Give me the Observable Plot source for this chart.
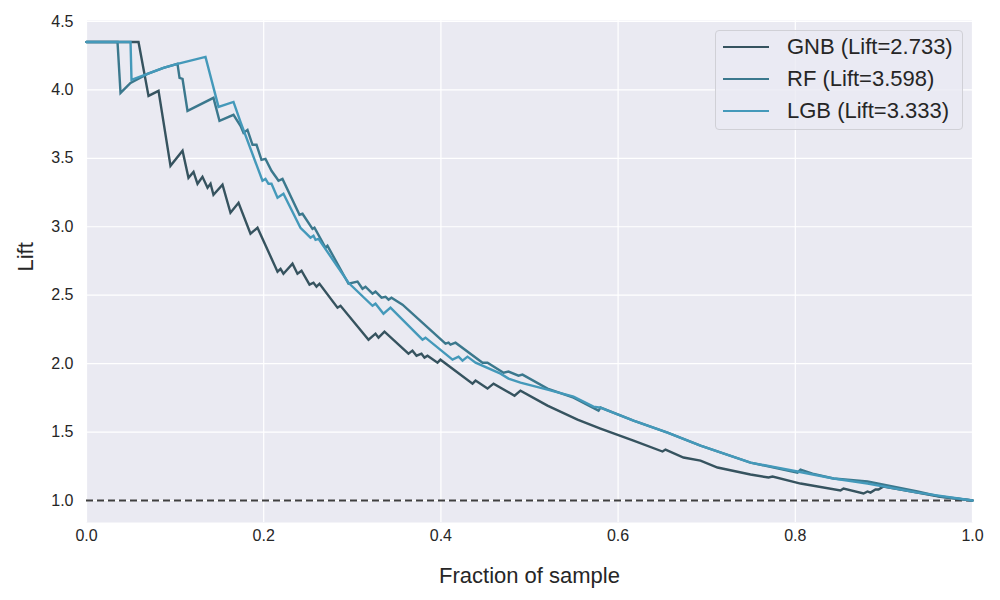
<!DOCTYPE html>
<html>
<head>
<meta charset="utf-8">
<script src="https://cdn.jsdelivr.net/npm/d3@7"></script>
<script src="https://cdn.jsdelivr.net/npm/@observablehq/plot@0.6"></script>
<style>
  html, body { margin: 0; padding: 0; background: #fff; }
  #wrap { position: relative; width: 1000px; height: 600px; font-family: "Liberation Sans", Arial, sans-serif; }
  #legend { position: absolute; left: 715px; top: 30px; width: 248px; height: 100px; box-sizing: border-box;
    background: rgba(234,234,242,0.8); border: 1px solid #d0d0d6; border-radius: 4px; padding-top: 0.5px; }
  .item { display: flex; align-items: center; height: 31.7px; color: #262626; font-size: 22px; white-space: nowrap; }
  .swatch { width: 46px; height: 0; border-top: 2.4px solid; margin-left: 7px; margin-right: 18px; }
</style>
</head>
<body>
<div id="wrap"><div id="legend"></div></div>
<script>
// Series: [fraction of sample, lift]
const seriesNames = ["GNB (Lift=2.733)", "RF (Lift=3.598)", "LGB (Lift=3.333)"];
const seriesColors = ["#36535f", "#3b788d", "#4499ba"];

const gnb = [
  [0,4.350],[0.0587,4.350],[0.0700,3.956],[0.0813,3.993],[0.0948,3.445],[0.1084,3.555],[0.1151,3.358],
  [0.1208,3.401],[0.1253,3.314],[0.1309,3.365],[0.1366,3.285],[0.1400,3.314],[0.1433,3.234],[0.1535,3.307],
  [0.1625,3.102],[0.1716,3.175],[0.1851,2.949],[0.1930,2.993],[0.2156,2.672],[0.2190,2.693],[0.2223,2.657],
  [0.2325,2.730],[0.2381,2.657],[0.2427,2.679],[0.2517,2.577],[0.2562,2.591],[0.2596,2.562],[0.2630,2.584],
  [0.2833,2.409],[0.2867,2.423],[0.3183,2.175],[0.3262,2.219],[0.3296,2.190],[0.3363,2.234],[0.3634,2.073],
  [0.3679,2.095],[0.3725,2.058],[0.3781,2.073],[0.3815,2.044],[0.3849,2.058],[0.3962,2.007],[0.3995,2.029],
  [0.4357,1.854],[0.4391,1.876],[0.4526,1.818],[0.4594,1.854],[0.4831,1.766],[0.4898,1.803],[0.5203,1.693],
  [0.5542,1.591],[0.5801,1.526],[0.6174,1.438],[0.6501,1.358],[0.6535,1.372],[0.6738,1.314],[0.6930,1.292],
  [0.7122,1.241],[0.7494,1.190],[0.7698,1.168],[0.7743,1.175],[0.8059,1.124],[0.8510,1.073],[0.8544,1.088],
  [0.8770,1.051],[0.8815,1.066],[0.8849,1.058],[0.8905,1.080],[0.8939,1.080],[0.8995,1.102],[0.9379,1.058],
  [0.9639,1.027],[1.0,1.0]
];

const rf = [
  [0,4.350],[0.0350,4.350],[0.0384,3.978],[0.0497,4.051],[0.0688,4.117],[0.0869,4.161],[0.1027,4.190],
  [0.1050,4.088],[0.1084,4.080],[0.1140,3.847],[0.1433,3.942],[0.1501,3.774],[0.1659,3.818],[0.1738,3.737],
  [0.1772,3.686],[0.1817,3.708],[0.1874,3.599],[0.1919,3.599],[0.1975,3.489],[0.2020,3.496],[0.2088,3.409],
  [0.2144,3.358],[0.2167,3.336],[0.2212,3.350],[0.2404,3.088],[0.2438,3.095],[0.2551,2.985],[0.2573,2.993],
  [0.2698,2.847],[0.2720,2.861],[0.2957,2.584],[0.3059,2.599],[0.3115,2.547],[0.3149,2.562],[0.3228,2.511],
  [0.3262,2.526],[0.3330,2.482],[0.3375,2.489],[0.3409,2.467],[0.3442,2.482],[0.3567,2.431],[0.4052,2.146],
  [0.4086,2.153],[0.4108,2.139],[0.4165,2.153],[0.4470,2.007],[0.4526,2.007],[0.4707,1.934],[0.4763,1.942],
  [0.4876,1.912],[0.4921,1.920],[0.5203,1.818],[0.5497,1.752],[0.5779,1.657],[0.5801,1.679],[0.6174,1.584],
  [0.6558,1.496],[0.6930,1.401],[0.7494,1.277],[0.8025,1.204],[0.8059,1.226],[0.8194,1.197],[0.8431,1.161],
  [0.8815,1.139],[0.9379,1.066],[0.9639,1.029],[1.0,1.0]
];

const lgb = [
  [0,4.350],[0.0497,4.350],[0.0508,4.073],[0.0688,4.117],[0.0869,4.161],[0.1027,4.190],[0.1343,4.241],
  [0.1490,3.876],[0.1659,3.912],[0.1738,3.766],[0.1986,3.336],[0.2020,3.350],[0.2054,3.314],[0.2088,3.314],
  [0.2156,3.212],[0.2223,3.241],[0.2415,2.993],[0.2528,2.920],[0.2562,2.934],[0.2585,2.905],[0.2619,2.912],
  [0.2957,2.591],[0.3228,2.423],[0.3262,2.438],[0.3352,2.365],[0.3431,2.409],[0.3792,2.175],[0.3826,2.190],
  [0.4131,2.029],[0.4199,2.051],[0.4244,2.022],[0.4300,2.051],[0.4391,2.007],[0.4673,1.927],[0.4763,1.891],
  [0.4898,1.861],[0.5203,1.810],[0.5497,1.759],[0.5722,1.686],[0.5801,1.679],[0.6174,1.584],[0.6558,1.496],
  [0.6930,1.401],[0.7494,1.277],[0.8025,1.212],[0.8431,1.161],[0.8815,1.124],[0.9379,1.058],[1.0,1.0]
];

const xTicks = [0, 0.2, 0.4, 0.6, 0.8, 1.0];
const yTicks = [1.0, 1.5, 2.0, 2.5, 3.0, 3.5, 4.0, 4.5];
const baseline = [1.0];

const allSeries = [gnb, rf, lgb];
const rows = allSeries.flatMap((s, i) => s.map(([x, y]) => ({x, y, model: seriesNames[i]})));

const font = '"Liberation Sans", Arial, sans-serif';

const chart = Plot.plot({
  width: 1000,
  height: 600,
  marginLeft: 86,
  marginRight: 28,
  marginTop: 20,
  marginBottom: 78,
  style: {fontFamily: font, background: "transparent", color: "#262626"},
  x: {domain: [0, 1], axis: null},
  y: {domain: [0.8394, 4.507], axis: null},
  color: {domain: seriesNames, range: seriesColors},
  marks: [
    Plot.frame({fill: "#eaeaf2", stroke: null}),
    Plot.gridX(xTicks, {stroke: "white", strokeOpacity: 1, strokeWidth: 1.2}),
    Plot.gridY(yTicks, {stroke: "white", strokeOpacity: 1, strokeWidth: 1.2}),
    Plot.text(xTicks, {x: d => d, text: d3.format(".1f"), frameAnchor: "bottom", lineAnchor: "top", dy: 7, fontSize: 16, fill: "#262626"}),
    Plot.text(yTicks, {y: d => d, text: d3.format(".1f"), frameAnchor: "left", textAnchor: "end", dx: -13, fontSize: 16, fill: "#262626"}),
    Plot.ruleY(baseline, {stroke: "#404040", strokeWidth: 2.2, strokeDasharray: "7,4"}),
    Plot.line(rows, {x: "x", y: "y", z: "model", stroke: "model", strokeWidth: 2.4, strokeLinejoin: "miter", strokeMiterlimit: 4}),
    Plot.text(["Fraction of sample"], {frameAnchor: "bottom", lineAnchor: "middle", dy: 53, fontSize: 22, fill: "#262626"}),
    Plot.text(["Lift"], {frameAnchor: "left", lineAnchor: "middle", dx: -61, rotate: -90, fontSize: 22, fill: "#262626"})
  ]
});

const wrap = document.getElementById("wrap");
wrap.insertBefore(chart, wrap.firstChild);

const legend = document.getElementById("legend");
seriesNames.forEach((name, i) => {
  const item = document.createElement("div");
  item.className = "item";
  const sw = document.createElement("div");
  sw.className = "swatch";
  sw.style.borderColor = seriesColors[i];
  const label = document.createElement("span");
  label.textContent = name;
  item.appendChild(sw);
  item.appendChild(label);
  legend.appendChild(item);
});
</script>
</body>
</html>
